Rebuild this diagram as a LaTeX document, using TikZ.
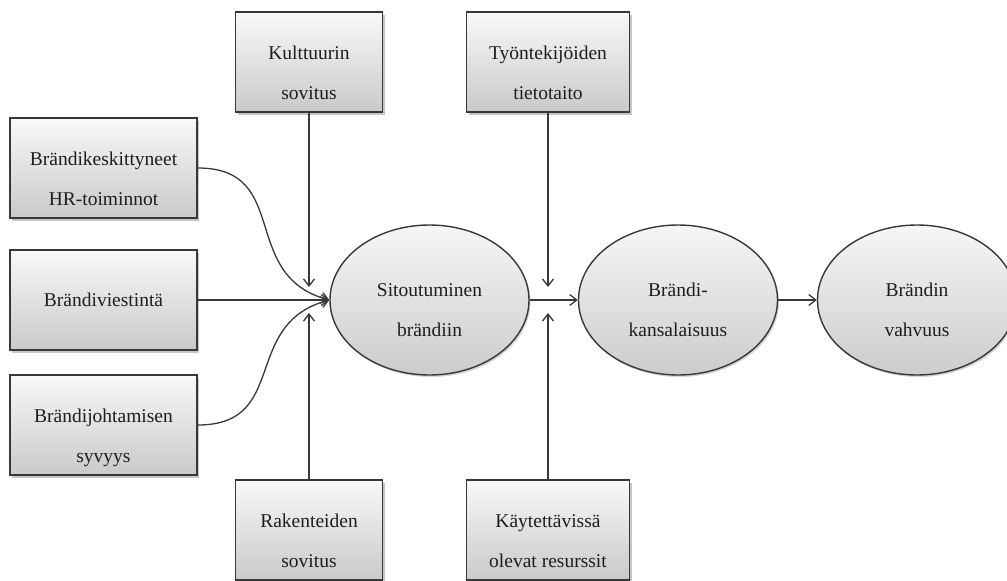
\documentclass[tikz,border=0pt]{standalone}
\usepackage{fontspec}
\setmainfont{Liberation Serif}
\usetikzlibrary{shapes.geometric,arrows.meta,shadows}
\definecolor{edgec}{HTML}{383838}
\definecolor{txtc}{HTML}{1E1E1E}
\begin{document}
\begin{tikzpicture}[x=1pt,y=1pt,
  every node/.style={font=\fontsize{19.5}{40}\selectfont, text=txtc},
  boxnode/.style={rectangle, draw=edgec, line width=1.4pt, top color=gray!5, bottom color=gray!42,
    align=center, inner sep=0pt,
    drop shadow={shadow xshift=2pt, shadow yshift=-2.5pt, opacity=0.45}},
  twoline/.style={text height=80pt, text depth=6pt},
  ellnode/.style={ellipse, draw=edgec, line width=1.4pt, top color=gray!7, bottom color=gray!40,
    align=center, inner sep=0pt, minimum width=199pt, minimum height=150pt,
    text height=78pt, text depth=6pt,
    drop shadow={shadow xshift=1.5pt, shadow yshift=-2pt, opacity=0.35}},
  conn/.style={draw=edgec, line width=1.3pt, -{Straight Barb[length=7pt,width=11pt]}},
]
\clip (0,0) rectangle (1007,-581);
% left boxes
\node[boxnode,twoline,minimum width=187pt,minimum height=100pt] (b1) at (103.5,-168) {Brändikeskittyneet\\HR-toiminnot};
\node[boxnode,minimum width=187pt,minimum height=100pt] (b2) at (103.5,-300) {Brändiviestintä};
\node[boxnode,twoline,minimum width=187pt,minimum height=100pt] (b3) at (103.5,-425) {Brändijohtamisen\\syvyys};
% top boxes
\node[boxnode,twoline,minimum width=147pt,minimum height=100pt] (kult) at (309,-62) {Kulttuurin\\sovitus};
\node[boxnode,twoline,minimum width=163pt,minimum height=100pt] (tyo) at (548,-62) {Työntekijöiden\\tietotaito};
% bottom boxes
\node[boxnode,twoline,minimum width=147pt,minimum height=100pt] (rak) at (309,-530) {Rakenteiden\\sovitus};
\node[boxnode,twoline,minimum width=163pt,minimum height=100pt] (kay) at (548,-530) {Käytettävissä\\olevat resurssit};
% ellipses
\node[ellnode] (e1) at (429.5,-300) {Sitoutuminen\\brändiin};
\node[ellnode] (e2) at (678,-300) {Brändi-\\kansalaisuus};
\node[ellnode] (e3) at (917,-300) {Brändin\\vahvuus};
% junction points
\coordinate (j1t) at (309,-287);
\coordinate (j1b) at (309,-313);
\coordinate (j2t) at (548,-287);
\coordinate (j2b) at (548,-313);
% connectors
\draw[conn] (b1.east) to[out=0,in=165,looseness=1.3] (e1.west);
\draw[conn] (b2.east) -- (e1.west);
\draw[conn] (b3.east) to[out=0,in=195,looseness=1.3] (e1.west);
\draw[conn] (kult.south) -- (j1t);
\draw[conn] (rak.north) -- (j1b);
\draw[conn] (tyo.south) -- (j2t);
\draw[conn] (kay.north) -- (j2b);
\draw[conn] (e1.east) -- (e2.west);
\draw[conn] (e2.east) -- (e3.west);
\end{tikzpicture}
\end{document}
